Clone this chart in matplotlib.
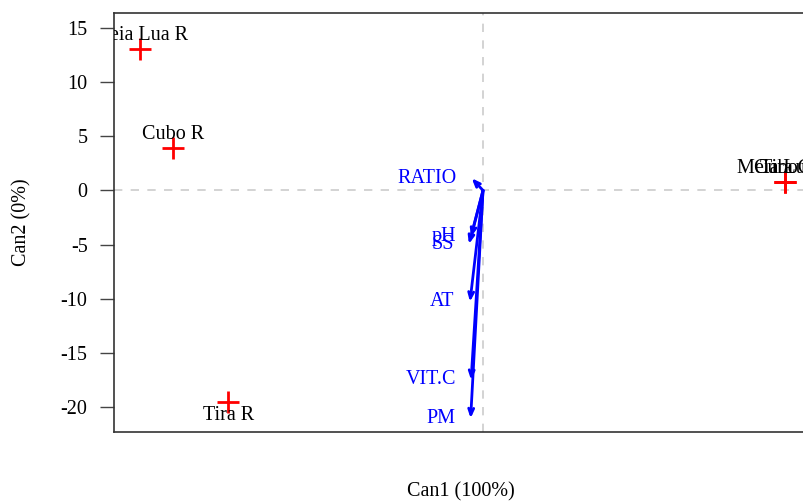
import matplotlib
matplotlib.use('Agg')
import matplotlib.pyplot as plt

plt.rcParams['font.family'] = 'Liberation Serif'

# group centroids on the canonical axes
groups = ['Meia Lua R', 'Cubo R', 'Tira R', 'Meia Lua C', 'Cubo C', 'Tira C']
can1 = [-31.7, -28.6, -23.5, 27.9, 27.9, 27.9]
can2 = [13.06, 3.9, -19.5, 0.78, 0.78, 0.78]

# structure vectors
variables = ['RATIO', 'pH', 'SS', 'AT', 'VIT.C', 'PM']
vec1 = [-1.04, -1.1, -1.3, -1.2, -1.1, -1.14]
vec2 = [1.12, -4.3, -4.95, -10.28, -17.5, -21.04]

yticks = [-20, -15, -10, -5, 0, 5, 10, 15]

W, H = 804, 501
fig = plt.figure(figsize=(W / 100, H / 100), dpi=100)
left, right, top, bottom = 114, 808, 13, 432
ax = fig.add_axes([left / W, 1 - bottom / H, (right - left) / W, (bottom - top) / H])

ppu = 10.83  # pixels per unit, same on both axes
x0, y0 = 483, 190.4
ax.set_xlim((left - x0) / ppu, (right - x0) / ppu)
ax.set_ylim(-(bottom - y0) / ppu, (y0 - top) / ppu)

ax.axhline(0, color='#cccccc', ls=(0, (5, 5)), lw=1.2, zorder=0)
ax.axvline(0, color='#cccccc', ls=(0, (5, 5)), lw=1.2, zorder=0)

fs = 14.5

# group points and labels
ax.plot(can1, can2, ls='none', marker='+', ms=16, mew=2, color='red')
for name, x, y in zip(groups, can1, can2):
    dy = 10 if y > 0 else -10
    ax.annotate(name, (x, y), xytext=(0, dy), textcoords='offset points',
                ha='center', va='center', fontsize=fs, color='black',
                clip_on=True, annotation_clip=False)

# variable vectors
for name, x, y in zip(variables, vec1, vec2):
    ax.annotate('', xy=(x, y), xytext=(0, 0),
                arrowprops=dict(arrowstyle='->,head_length=0.45,head_width=0.18',
                                color='blue', lw=2, shrinkA=0, shrinkB=0))
    ax.annotate(name, (x, y), xytext=(-11, 0), textcoords='offset points',
                ha='right', va='center', fontsize=fs, color='blue')

ax.set_xticks([])
ax.set_yticks(yticks)
ax.set_yticklabels([str(t) for t in yticks], fontsize=fs)
ax.tick_params(axis='y', length=10, width=1, color='#444444', pad=9)
for s in ax.spines.values():
    s.set_linewidth(1.2)
    s.set_color('#333333')

ax.set_xlabel('Can1 (100%)', fontsize=fs, va='center')
ax.xaxis.set_label_coords((461 - left) / (right - left), -(492 - bottom) / (bottom - top))
ax.set_ylabel('Can2 (0%)', fontsize=fs, va='center')
ax.yaxis.set_label_coords((22 - left) / (right - left), 0.5)

fig.savefig('out.png', dpi=100)
